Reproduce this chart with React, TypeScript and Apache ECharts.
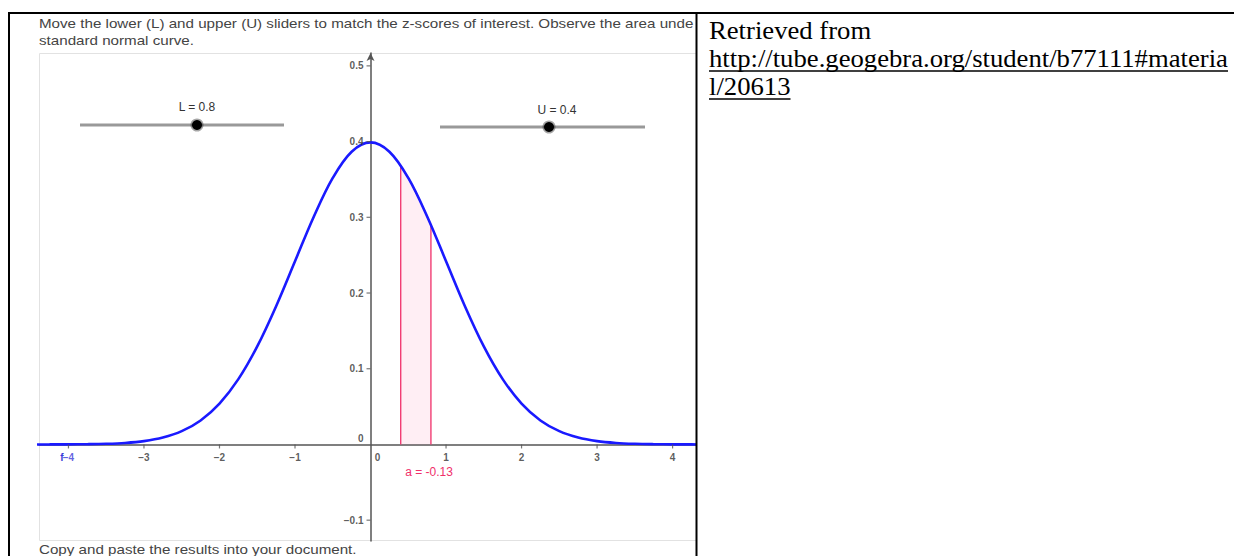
import React, { useEffect, useRef } from "react";
import * as echarts from "echarts";

// ---- data ----
const curveX = [-4.5, -4.25, -4, -3.75, -3.5, -3.25, -3, -2.75, -2.5, -2.25, -2, -1.75, -1.5, -1.25, -1, -0.75, -0.5, -0.25, 0,
  0.25, 0.5, 0.75, 1, 1.25, 1.5, 1.75, 2, 2.25, 2.5, 2.75, 3, 3.25, 3.5, 3.75, 4, 4.25, 4.5];
const curveY = [0.00002, 0.00005, 0.00013, 0.00035, 0.00087, 0.00203, 0.00443, 0.00909, 0.01753, 0.03174, 0.05399, 0.08628, 0.12952, 0.18265, 0.24197, 0.30114, 0.35207, 0.38667, 0.39894,
  0.38667, 0.35207, 0.30114, 0.24197, 0.18265, 0.12952, 0.08628, 0.05399, 0.03174, 0.01753, 0.00909, 0.00443, 0.00203, 0.00087, 0.00035, 0.00013, 0.00005, 0.00002];
const areaX = [0.4, 0.5, 0.6, 0.7, 0.8];
const areaY = [0.36827, 0.35207, 0.33322, 0.31225, 0.28969];
const xTicks = [-4, -3, -2, -1, 0, 1, 2, 3, 4];
const xTickLabels = ["−4", "−3", "−2", "−1", "0", "1", "2", "3", "4"];
const yTicks = [-0.1, 0, 0.1, 0.2, 0.3, 0.4, 0.5];
const yTickLabels = ["−0.1", "0", "0.1", "0.2", "0.3", "0.4", "0.5"];
const sliderL = "L = 0.8";
const sliderU = "U = 0.4";
const areaLabel = "a = -0.13";
const titleLine1 = "Move the lower (L) and upper (U) sliders to match the z-scores of interest. Observe the area unde";
const titleLine2 = "standard normal curve.";
const footerText = "Copy and paste the results into your document.";
const sourceLines = ["Retrieved from", "http://tube.geogebra.org/student/b77111#materia", "l/20613"];

const SANS = "'Liberation Sans', Arial, Helvetica, sans-serif";
const SERIF = "'Liberation Serif', 'Times New Roman', serif";
const BLUE = "#1a1aff";

function measure(text: string, font: string): number {
  const c = document.createElement("canvas").getContext("2d");
  if (!c) return text.length * 12;
  c.font = font;
  return c.measureText(text).width;
}

export default function App() {
  const ref = useRef<HTMLDivElement>(null);
  useEffect(() => {
    if (!ref.current) return;
    const chart = echarts.init(ref.current, undefined, { renderer: "svg" });
    const titleFont = `13px ${SANS}`;
    const titleScale = 655 / measure(titleLine1, titleFont);
    const serifFont = `25px ${SERIF}`;
    const serifScale = 519 / measure(sourceLines[1], serifFont);
    const linkW2 = measure(sourceLines[1], serifFont) * serifScale;
    const linkW3 = measure(sourceLines[2], serifFont) * serifScale;
    const tickLabelStyle = { color: "#333", fontSize: 10, fontWeight: "bold", fontFamily: SANS };

    const option: any = {
      animation: false,
      backgroundColor: "#fff",
      grid: { left: 39, right: 538, top: 53, bottom: 15, containLabel: false },
      xAxis: {
        type: "value", min: -4.39, max: 4.31,
        axisLine: { onZero: true, lineStyle: { color: "#555", width: 1.5 } },
        axisTick: { show: false }, axisLabel: { show: false }, splitLine: { show: false },
      },
      yAxis: {
        type: "value", min: -0.1275, max: 0.517,
        axisLine: { onZero: true, symbol: ["none", "arrow"], symbolSize: [6, 8], lineStyle: { color: "#555", width: 1.5 } },
        axisTick: { show: false }, axisLabel: { show: false }, splitLine: { show: false },
      },
      series: [
        {
          type: "line", name: "area", z: 2,
          data: [[areaX[0], 0], ...areaX.map((x, i) => [x, areaY[i]]), [areaX[areaX.length - 1], 0]],
          showSymbol: false, symbol: "none",
          lineStyle: { color: "#f0306a", width: 1.3 },
          areaStyle: { color: "rgba(250, 80, 140, 0.14)", origin: 0 },
        },
        {
          type: "line", name: "f", z: 3,
          data: curveX.map((x, i) => [x, curveY[i]]),
          smooth: 0.35, showSymbol: false, symbol: "none",
          lineStyle: { color: BLUE, width: 2.6 },
        },
        {
          type: "scatter", name: "xticks", z: 4, silent: true,
          symbol: "rect", symbolSize: [1.2, 4], symbolOffset: [0, 2],
          itemStyle: { color: "#555" },
          label: { show: true, position: "bottom", distance: 4, ...tickLabelStyle },
          data: xTicks.map((x, i) => ({
            value: [x, 0],
            itemStyle: x === 0 ? { color: "rgba(0,0,0,0)" } : undefined,
            label: {
              formatter: xTickLabels[i],
              offset: x === 0 ? [7, 0] : [0, 0],
              color: i === 0 ? "#3a3ad8" : "#333",
            },
          })),
        },
        {
          type: "scatter", name: "yticks", z: 4, silent: true,
          symbol: "rect", symbolSize: [4, 1.2], symbolOffset: [-2, 0],
          itemStyle: { color: "#555" },
          label: { show: true, position: "left", distance: 3, ...tickLabelStyle },
          data: yTicks.map((y, i) => ({
            value: [0, y],
            itemStyle: y === 0 ? { color: "rgba(0,0,0,0)" } : undefined,
            label: { formatter: yTickLabels[i], offset: y === 0 ? [0, -6] : [0, 0] },
          })),
        },
      ],
      graphic: [
        // plot frame
        { type: "rect", z: 0, shape: { x: 39.5, y: 53.5, width: 657, height: 487 }, style: { fill: "none", stroke: "#e2e2e2", lineWidth: 1 } },
        // texts around
        { type: "text", x: 39, y: 23, scaleX: titleScale, style: { text: titleLine1, font: titleFont, fill: "#444", verticalAlign: "middle" } },
        { type: "text", x: 39, y: 40, scaleX: titleScale, style: { text: titleLine2, font: titleFont, fill: "#444", verticalAlign: "middle" } },
        { type: "text", x: 39, y: 549, scaleX: titleScale, style: { text: footerText, font: titleFont, fill: "#444", verticalAlign: "middle" } },
        // sliders
        { type: "line", shape: { x1: 80, y1: 125, x2: 284, y2: 125 }, style: { stroke: "#999", lineWidth: 3 } },
        { type: "circle", shape: { cx: 197, cy: 125, r: 5 }, style: { fill: "#000", stroke: "rgba(0,0,0,0.35)", lineWidth: 3 } },
        { type: "text", x: 197, y: 107, style: { text: sliderL, font: `12px ${SANS}`, fill: "#333", align: "center", verticalAlign: "middle" } },
        { type: "line", shape: { x1: 440, y1: 127, x2: 645, y2: 127 }, style: { stroke: "#999", lineWidth: 3 } },
        { type: "circle", shape: { cx: 549, cy: 127, r: 5 }, style: { fill: "#000", stroke: "rgba(0,0,0,0.35)", lineWidth: 3 } },
        { type: "text", x: 557, y: 110, style: { text: sliderU, font: `12px ${SANS}`, fill: "#333", align: "center", verticalAlign: "middle" } },
        // function name and area label
        { type: "text", x: 62, y: 457, style: { text: "f", font: `bold 10px ${SANS}`, fill: "#3a3ad8", align: "center", verticalAlign: "middle" } },
        { type: "text", x: 429, y: 472, style: { text: areaLabel, font: `12px ${SANS}`, fill: "#f0306a", align: "center", verticalAlign: "middle" } },
        // right cell
        { type: "rect", z: 50, shape: { x: 697, y: 13, width: 540, height: 545 }, style: { fill: "#fff" } },
        ...sourceLines.map((t, i) => ({
          type: "text", z: 51, x: 709, y: 31 + i * 28, scaleX: serifScale,
          style: { text: t, font: serifFont, fill: "#000", verticalAlign: "middle" },
        })),
        { type: "line", z: 51, shape: { x1: 709, y1: 71, x2: 709 + linkW2, y2: 71 }, style: { stroke: "#000", lineWidth: 1.5 } },
        { type: "line", z: 51, shape: { x1: 709, y1: 99, x2: 709 + linkW3, y2: 99 }, style: { stroke: "#000", lineWidth: 1.5 } },
        // table borders
        { type: "line", z: 60, shape: { x1: 8, y1: 13, x2: 1234, y2: 13 }, style: { stroke: "#000", lineWidth: 2 } },
        { type: "line", z: 60, shape: { x1: 9, y1: 12, x2: 9, y2: 556 }, style: { stroke: "#000", lineWidth: 2 } },
        { type: "line", z: 60, shape: { x1: 696.5, y1: 12, x2: 696.5, y2: 556 }, style: { stroke: "#000", lineWidth: 2 } },
      ],
    };
    chart.setOption(option);
    return () => chart.dispose();
  }, []);
  return <div ref={ref} style={{ position: "fixed", left: 0, top: 0, width: 1234, height: 556 }} />;
}
